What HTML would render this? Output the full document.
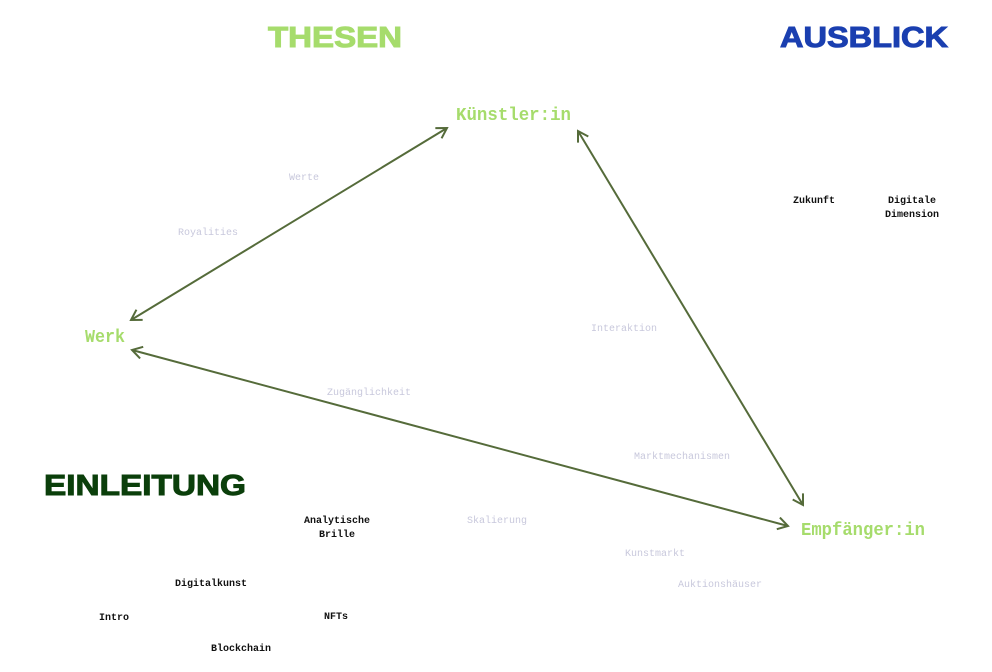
<!DOCTYPE html>
<html><head><meta charset="utf-8"><style>
html,body{margin:0;padding:0;background:#fff;width:992px;height:672px;overflow:hidden}
svg{display:block}
.h{font-family:"Liberation Sans",sans-serif;font-weight:900;stroke-width:1px}
.n{font-family:"Liberation Mono",monospace;font-size:18px;fill:#a6dc6c;font-weight:bold}
.f{font-family:"Liberation Mono",monospace;font-size:10px;fill:#c8c8dc;text-anchor:middle}
.k{font-family:"Liberation Mono",monospace;font-size:10px;font-weight:bold;fill:#111;text-anchor:middle}
</style></head><body>
<svg width="992" height="672" viewBox="0 0 992 672">
<defs>
<marker id="a" markerWidth="14" markerHeight="14" refX="12" refY="7" orient="auto-start-reverse" markerUnits="userSpaceOnUse">
<path d="M2,1 L12,7 L2,13" fill="none" stroke="#556b3a" stroke-width="2"/>
</marker>
</defs>
<text class="h" x="268" y="47" font-size="29" fill="#a6dc6c" stroke="#a6dc6c" textLength="134" lengthAdjust="spacingAndGlyphs">THESEN</text>
<text class="h" x="780" y="47" font-size="29" fill="#1a3fb0" stroke="#1a3fb0" textLength="168" lengthAdjust="spacingAndGlyphs">AUSBLICK</text>
<text class="h" x="44" y="495" font-size="29" fill="#0b3f0b" stroke="#0b3f0b" textLength="202" lengthAdjust="spacingAndGlyphs">EINLEITUNG</text>
<g stroke="#556b3a" stroke-width="2" fill="none">
<line x1="131" y1="320" x2="447" y2="128" marker-start="url(#a)" marker-end="url(#a)"/>
<line x1="578" y1="131" x2="803" y2="505" marker-start="url(#a)" marker-end="url(#a)"/>
<line x1="132" y1="350" x2="788" y2="526" marker-start="url(#a)" marker-end="url(#a)"/>
</g>
<text class="n" x="456" y="120" textLength="115" lengthAdjust="spacingAndGlyphs">Künstler:in</text>
<text class="n" x="85" y="342" textLength="40" lengthAdjust="spacingAndGlyphs">Werk</text>
<text class="n" x="801" y="535" textLength="124" lengthAdjust="spacingAndGlyphs">Empfänger:in</text>
<text class="f" x="304" y="180">Werte</text>
<text class="f" x="208" y="235">Royalities</text>
<text class="f" x="624" y="331">Interaktion</text>
<text class="f" x="369" y="395">Zugänglichkeit</text>
<text class="f" x="682" y="459">Marktmechanismen</text>
<text class="f" x="497" y="523">Skalierung</text>
<text class="f" x="655" y="556">Kunstmarkt</text>
<text class="f" x="720" y="587">Auktionshäuser</text>
<text class="k" x="814" y="203">Zukunft</text>
<text class="k" x="912" y="203">Digitale</text>
<text class="k" x="912" y="217">Dimension</text>
<text class="k" x="337" y="523">Analytische</text>
<text class="k" x="337" y="537">Brille</text>
<text class="k" x="211" y="586">Digitalkunst</text>
<text class="k" x="114" y="620">Intro</text>
<text class="k" x="336" y="619">NFTs</text>
<text class="k" x="241" y="651">Blockchain</text>
</svg>
</body></html>
